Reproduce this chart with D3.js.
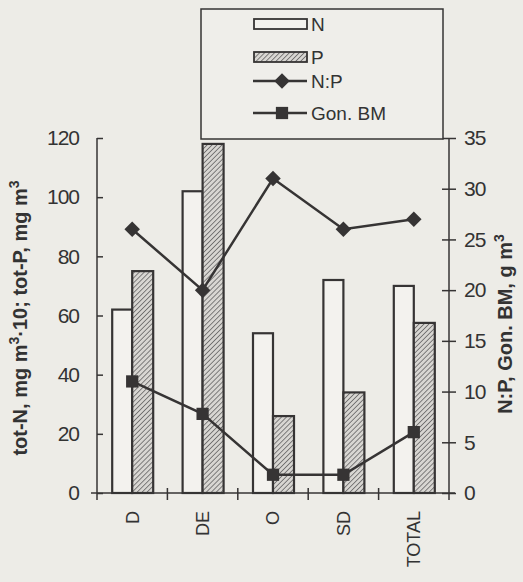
<!DOCTYPE html>
<html><head><meta charset="utf-8">
<script src="https://cdn.jsdelivr.net/npm/d3@7"></script>
<style>
html,body{margin:0;padding:0;background:#edece7;}
svg{display:block;font-family:"Liberation Sans",Arial,sans-serif;}
</style></head>
<body>
<svg id="c" width="523" height="582"></svg>
<script>
const categories = ["D","DE","O","SD","TOTAL"];
const nValues = [62,102,54,72,70];
const pValues = [75,118,26,34,57.5];
const npValues = [26,20,31,26,27];
const gonValues = [11,7.8,1.8,1.8,6];
const leftTicks = [0,20,40,60,80,100,120];
const rightTicks = [0,5,10,15,20,25,30,35];

const ink = "#363434";
const svg = d3.select("#c");
const defs = svg.append("defs");
const pat = defs.append("pattern").attr("id","hatch").attr("patternUnits","userSpaceOnUse")
  .attr("width",3.5).attr("height",3.5).attr("patternTransform","rotate(45)");
pat.append("rect").attr("width",3.5).attr("height",3.5).attr("fill","#d8d6d2");
pat.append("line").attr("x1",0).attr("y1",0).attr("x2",0).attr("y2",3.5).attr("stroke","#555").attr("stroke-width",1.4);

const L = 97, R = 449, T = 138, B = 493;
const x = d3.scaleBand().domain(categories).range([L,R]).paddingInner(0).paddingOuter(0);
const yL = d3.scaleLinear().domain([0,120]).range([B,T]);
const yR = d3.scaleLinear().domain([0,35]).range([B,T]);
const bw = 20;

// bars
const g = svg.append("g");
g.selectAll(".n").data(categories).join("rect")
  .attr("x",d=>x(d)+x.bandwidth()/2-bw).attr("width",bw)
  .attr("y",(d,i)=>yL(nValues[i])).attr("height",(d,i)=>B-yL(nValues[i]))
  .attr("fill","#f3f2ee").attr("stroke",ink).attr("stroke-width",2.2);
g.selectAll(".p").data(categories).join("rect")
  .attr("x",d=>x(d)+x.bandwidth()/2).attr("width",bw+1)
  .attr("y",(d,i)=>yL(pValues[i])).attr("height",(d,i)=>B-yL(pValues[i]))
  .attr("fill","url(#hatch)").attr("stroke",ink).attr("stroke-width",2.2);

// axes
const axL = svg.append("g").attr("transform",`translate(${L},0)`)
  .call(d3.axisLeft(yL).tickValues(leftTicks).tickSizeInner(8).tickSizeOuter(0).tickPadding(10));
axL.selectAll(".tick line").attr("x2",6);
const axR = svg.append("g").attr("transform",`translate(${R},0)`)
  .call(d3.axisRight(yR).tickValues(rightTicks).tickSizeInner(7).tickSizeOuter(0).tickPadding(8));
axR.selectAll(".tick line").attr("x1",-7);
[axL,axR].forEach(a=>{
  a.select(".domain").attr("stroke",ink).attr("stroke-width",1.5).attr("d",`M0,${T}V${B+7}`);
  a.selectAll(".tick line").attr("stroke",ink).attr("stroke-width",1.5);
  a.selectAll(".tick text").attr("fill","#333").attr("font-size",21).style("letter-spacing","-1px");
});
// bottom axis
const axB = svg.append("g").attr("transform",`translate(0,${B})`)
  .call(d3.axisBottom(x).tickSize(0).tickPadding(0));
axB.select(".domain").attr("stroke",ink).attr("stroke-width",1.5).attr("d",`M${L-6},0H${R+6}`);
axB.selectAll(".tick text").attr("fill","#333").attr("font-size",18)
  .attr("text-anchor","end").attr("dy","0.35em")
  .attr("transform","translate(0,18) rotate(-90)");
svg.append("g").selectAll("line").data(categories.slice(1)).join("line")
  .attr("x1",d=>x(d)).attr("x2",d=>x(d)).attr("y1",B-5).attr("y2",B+7)
  .attr("stroke",ink).attr("stroke-width",1.5);

// lines
const cx = d=>x(d)+x.bandwidth()/2;
const lineNP = d3.line().x((d,i)=>cx(categories[i])).y(d=>yR(d));
svg.append("path").attr("d",lineNP(npValues)).attr("fill","none").attr("stroke",ink).attr("stroke-width",2.5);
svg.append("path").attr("d",lineNP(gonValues)).attr("fill","none").attr("stroke",ink).attr("stroke-width",2.5);
const diamond = d3.symbol().type(d3.symbolSquare).size(120);
svg.selectAll(".dm").data(npValues).join("path")
  .attr("d",diamond).attr("transform",(d,i)=>`translate(${cx(categories[i])},${yR(d)}) rotate(45)`)
  .attr("fill",ink);
svg.selectAll(".sq").data(gonValues).join("path")
  .attr("d",d3.symbol().type(d3.symbolSquare).size(150))
  .attr("transform",(d,i)=>`translate(${cx(categories[i])},${yR(d)})`)
  .attr("fill",ink);

// axis titles
const lt = svg.append("text").attr("transform","translate(27,318) rotate(-90)")
  .attr("text-anchor","middle").attr("font-weight","bold").attr("font-size",20).attr("fill","#333");
lt.append("tspan").text("tot-N, mg m");
lt.append("tspan").text("3").attr("dy",-8).attr("font-size",14);
lt.append("tspan").text("·10; tot-P, mg m").attr("dy",8);
lt.append("tspan").text("3").attr("dy",-8).attr("font-size",14);
const rt = svg.append("text").attr("transform","translate(512,324) rotate(-90)")
  .attr("text-anchor","middle").attr("font-weight","bold").attr("font-size",20).attr("fill","#333");
rt.append("tspan").text("N:P, Gon. BM, g m");
rt.append("tspan").text("3").attr("dy",-8).attr("font-size",14);

// legend
const lg = svg.append("g");
lg.append("rect").attr("x",201).attr("y",9).attr("width",242).attr("height",130)
  .attr("fill","#efeeea").attr("stroke",ink).attr("stroke-width",1.5);
const items = [
  {label:"N", y:24, kind:"n"},
  {label:"P", y:57, kind:"p"},
  {label:"N:P", y:81, kind:"np"},
  {label:"Gon. BM", y:113, kind:"gon"}
];
items.forEach(it=>{
  if(it.kind==="n"||it.kind==="p"){
    lg.append("rect").attr("x",254).attr("y",it.y-5).attr("width",53).attr("height",10)
      .attr("fill",it.kind==="n"?"#f3f2ee":"url(#hatch)").attr("stroke",ink).attr("stroke-width",1.8);
  } else {
    lg.append("line").attr("x1",253).attr("x2",307).attr("y1",it.y).attr("y2",it.y)
      .attr("stroke",ink).attr("stroke-width",2.5);
    if(it.kind==="np"){
      lg.append("path").attr("d",diamond).attr("transform",`translate(282,${it.y}) rotate(45)`).attr("fill",ink);
    } else {
      lg.append("path").attr("d",d3.symbol().type(d3.symbolSquare).size(150)).attr("transform",`translate(282,${it.y})`).attr("fill",ink);
    }
  }
  lg.append("text").attr("x",311).attr("y",it.y).attr("dy","0.36em").attr("font-size",19).attr("fill","#333").text(it.label);
});
</script>
</body></html>
